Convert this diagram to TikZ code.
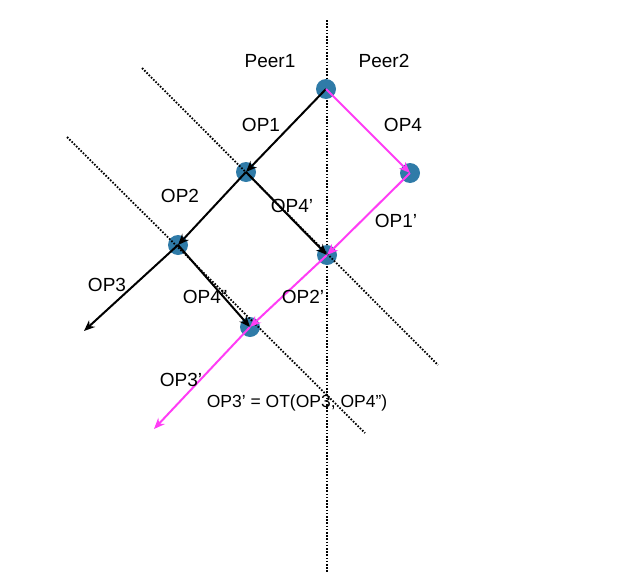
\documentclass[tikz,border=0pt]{standalone}
\usepackage{fontspec}
\setmainfont{Liberation Sans}
\usetikzlibrary{arrows.meta}
\definecolor{dotblue}{HTML}{2F7BA8}
\definecolor{opmagenta}{HTML}{FF3DF5}
\tikzset{
    opdot/.style={circle,fill=dotblue,inner sep=0pt,minimum size=20pt},
    opline/.style={line width=2pt,-{Stealth[length=11pt,width=9pt]}},
    axis/.style={line width=1.8pt,dash pattern=on 1.6pt off 1.6pt},
    lbl/.style={font=\fontsize{19}{22}\selectfont,inner sep=0pt}
}
\begin{document}
\begin{tikzpicture}[x=1pt,y=-1pt]
        \useasboundingbox (0,0) rectangle (640,581);
        %% Peer axis
        \coordinate (top) at (327,20);
        \coordinate (bot) at (327,572);
        \draw[axis] (top) -- (bot);
        %% Dots
        \node[opdot] (a) at (326,89) {};
        \node[opdot] (b) at (246,172) {};
        \node[opdot] (c) at (178,245) {};
        \node[opdot] (d) at (410,173) {};
        \node[opdot] (e) at (327,255) {};
        \node[opdot] (f) at (250,327) {};
        %% Diagonals
        \coordinate (d1s) at (142,68);
        \coordinate (d1e) at (438,365);
        \coordinate (d2s) at (67,137);
        \coordinate (d2e) at (365,433);
        \draw[axis] (d1s) -- (d1e);
        \draw[axis] (d2s) -- (d2e);
        %% Peer1 ops
        \coordinate (op3end) at (84,331);
        \draw[opline] (a.center) -- (b.center);
        \draw[opline] (b.center) -- (c.center);
        \draw[opline] (c.center) -- (op3end);
        \draw[opline] (b.center) -- (e.center);
        \draw[opline] (c.center) -- (f.center);
        %% Peer2 ops
        \coordinate (op3pend) at (154,429);
        \draw[opline,opmagenta] (a.center) -- (d.center);
        \draw[opline,opmagenta] (d.center) -- (e.center);
        \draw[opline,opmagenta] (e.center) -- (f.center);
        \draw[opline,opmagenta] (f.center) -- (op3pend);
        %% Labels
        \node[lbl] (peer1) at (270,61) {Peer1};
        \node[lbl] (peer2) at (384,61) {Peer2};
        \node[lbl] (op1) at (261,125) {OP1};
        \node[lbl] (op4) at (403,125) {OP4};
        \node[lbl] (op2) at (180,196) {OP2};
        \node[lbl] (op4p) at (292,206) {OP4'};
        \node[lbl] (op1p) at (396,221) {OP1'};
        \node[lbl] (op3) at (107,285) {OP3};
        \node[lbl] (op4pp) at (205,297) {OP4''};
        \node[lbl] (op2p) at (303,297) {OP2'};
        \node[lbl] (op3p) at (181,380) {OP3'};
        \node[lbl,font=\fontsize{17.5}{20}\selectfont] (ot) at (297,403) {OP3' = OT(OP3, OP4'')};
    \end{tikzpicture}
\end{document}
